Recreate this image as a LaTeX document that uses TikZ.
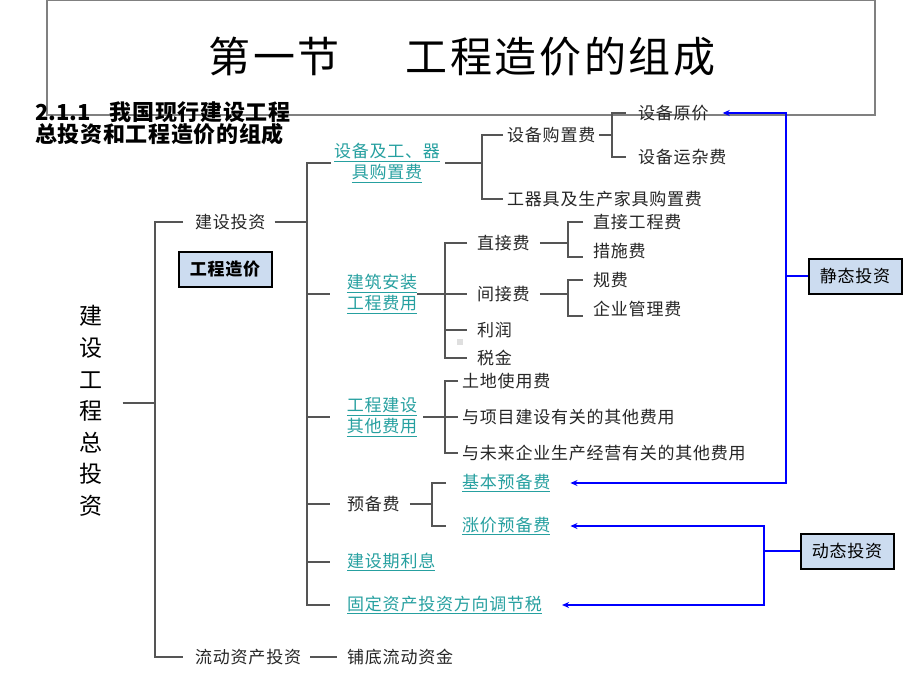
\documentclass[tikz,border=0pt]{standalone}
\usepackage{fontspec}
\setmainfont{Noto Sans CJK SC}
\newfontfamily\treefont[LetterSpace=4.5]{Noto Sans CJK SC}
\newfontfamily\headfont[LetterSpace=3]{Noto Sans CJK SC}
\newfontfamily\titlefont[LetterSpace=6]{Noto Sans CJK SC}
\usetikzlibrary{arrows.meta}

\definecolor{linkteal}{RGB}{38,160,160}
\definecolor{treegray}{RGB}{85,85,85}
\definecolor{boxblue}{RGB}{204,220,240}

\tikzset{
  treeline/.style={draw=treegray,line width=1.1pt},
  itemtext/.style={anchor=west,inner xsep=0pt,inner ysep=1pt,text=black!85,
    font=\treefont\fontsize{17}{21}\selectfont},
  linktext/.style={itemtext,text=linkteal},
  linkpair/.style={linktext,anchor=center,align=center},
  sumbox/.style={draw=black,line width=2pt,fill=boxblue,minimum width=93pt,minimum height=35pt,
    inner sep=0pt,font=\treefont\fontsize{17}{21}\selectfont},
  bluearr/.style={draw=blue,line width=1.3pt,-{Stealth[length=7pt,width=6pt]},shorten >=#1},
  bluearr/.default=20pt
}

\begin{document}
\begin{tikzpicture}[x=1pt,y=-1pt]
\fill[white] (0,0) rectangle (920,690);
\useasboundingbox (0,0) rectangle (920,690);

% title frame
\draw[gray,line width=1.2pt] (47,0.7) rectangle (875,115);
\node[font=\titlefont\fontsize{42}{42}\selectfont] (title) at (462,57) {第一节\hspace{66pt}工程造价的组成};
\node[anchor=west,align=left,inner sep=0pt,font=\headfont\bfseries\fontsize{22}{21}\selectfont] (head) at (35,123.5)
  {{\rmfamily\bfseries 2.1.1}\hspace{19pt}我国现行建设工程\\总投资和工程造价的组成};

% spines
\coordinate (s0) at (155,0);
\coordinate (s1) at (307,0);
\coordinate (s2a) at (482,0);
\coordinate (s3a) at (612,0);
\coordinate (s2b) at (445,0);
\coordinate (s3b) at (568,0);
\coordinate (s2c) at (445,0);
\coordinate (s2d) at (432,0);
\coordinate (bj) at (786,0);
\coordinate (bd) at (764,0);

% left part
\node[inner sep=0pt,align=center,font=\fontsize{23}{31.6}\selectfont] (root) at (91,411) {建\\设\\工\\程\\总\\投\\资};
\node[itemtext] (jstz) at (195,222) {建设投资};
\node[itemtext] (ldzc) at (195,657) {流动资产投资};
\node[itemtext] (pddz) at (347,657) {铺底流动资金};
\node[sumbox,font=\treefont\bfseries\fontsize{17}{21}\selectfont] (gczj) at (225,269) {工程造价};

% second level
\node[linkpair] (sbqj) at (387,163) {\underline{设备及工、器}\\\underline{具购置费}};
\node[linkpair] (jzaz) at (382,294) {\underline{建筑安装}\\\underline{工程费用}};
\node[linkpair] (gcqt) at (382,417) {\underline{工程建设}\\\underline{其他费用}};
\node[itemtext] (ybf) at (347,504) {预备费};
\node[linktext] (jsql) at (347,562) {\underline{建设期利息}};
\node[linktext] (gdzc) at (347,605) {\underline{固定资产投资方向调节税}};

% third level
\node[itemtext] (sbgz) at (507,135) {设备购置费};
\node[itemtext] (gqj) at (507,199) {工器具及生产家具购置费};
\node[itemtext] (sbyj) at (638,113) {设备原价};
\node[itemtext] (sbyz) at (638,157) {设备运杂费};
\node[itemtext] (zjf) at (477,243) {直接费};
\node[itemtext] (jjf) at (477,294) {间接费};
\node[itemtext] (lr) at (477,330) {利润};
\node[itemtext] (sj) at (477,358) {税金};
\node[itemtext] (zjgc) at (593,222) {直接工程费};
\node[itemtext] (csf) at (593,251) {措施费};
\node[itemtext] (gf) at (593,280) {规费};
\node[itemtext] (qygl) at (593,309) {企业管理费};
\node[itemtext] (tdsy) at (462,381) {土地使用费};
\node[itemtext] (xmjs) at (462,417) {与项目建设有关的其他费用};
\node[itemtext] (wlqy) at (462,453) {与未来企业生产经营有关的其他费用};
\node[linktext] (jbyb) at (462,483) {\underline{基本预备费}};
\node[linktext] (zjyb) at (462,526) {\underline{涨价预备费}};
\fill[gray!25] (457,339) rectangle (463,345);

% right boxes
\node[sumbox] (jt) at (855,276) {静态投资};
\node[sumbox] (dt) at (847,551) {动态投资};

% tree connectors
\draw[treeline] ([xshift=20pt,yshift=8pt]root.east) -- ++(32,0);
\draw[treeline] ([xshift=-12pt]jstz.west) -| (s0 |- ldzc) -- ([xshift=-12pt]ldzc.west);
\draw[treeline] ([xshift=9pt]ldzc.east) -- ([xshift=-10pt]pddz.west);
\draw[treeline] ([xshift=9pt]jstz.east) -- (s1 |- jstz);
\draw[treeline] ([xshift=-3pt]sbqj.west) -| (s1 |- gdzc) -- ([xshift=-17pt]gdzc.west);
\draw[treeline] (s1 |- jzaz) -- ([xshift=-17pt]jzaz.west);
\draw[treeline] (s1 |- gcqt) -- ([xshift=-17pt]gcqt.west);
\draw[treeline] (s1 |- ybf) -- ([xshift=-17pt]ybf.west);
\draw[treeline] (s1 |- jsql) -- ([xshift=-17pt]jsql.west);

\draw[treeline] ([xshift=5pt]sbqj.east) -- (s2a |- sbqj);
\draw[treeline] ([xshift=-4pt]sbgz.west) -| (s2a |- gqj) -- ([xshift=-4pt]gqj.west);
\draw[treeline] ([xshift=4pt]sbgz.east) -- (s3a |- sbgz);
\draw[treeline] ([xshift=-12pt]sbyj.west) -| (s3a |- sbyz) -- ([xshift=-12pt]sbyz.west);

\draw[treeline] (jzaz.east) -- (s2b |- jzaz);
\draw[treeline] ([xshift=-10pt]zjf.west) -| (s2b |- sj) -- ([xshift=-10pt]sj.west);
\draw[treeline] (s2b |- jjf) -- ([xshift=-10pt]jjf.west);
\draw[treeline] (s2b |- lr) -- ([xshift=-10pt]lr.west);
\draw[treeline] ([xshift=10pt]zjf.east) -- (s3b |- zjf);
\draw[treeline] ([xshift=-10pt]zjgc.west) -| (s3b |- csf) -- ++(0,6) -- ++(15,0);
\draw[treeline] ([xshift=10pt]jjf.east) -- (s3b |- jjf);
\draw[treeline] ([xshift=-10pt]gf.west) -| (s3b |- qygl) -- ++(0,7) -- ++(15,0);

\draw[treeline] ([xshift=6pt]gcqt.east) -- (s2c |- gcqt);
\draw[treeline] ([xshift=-4pt]tdsy.west) -| (s2c |- wlqy) -- ([xshift=-4pt]wlqy.west);
\draw[treeline] (s2c |- xmjs) -- ([xshift=-4pt]xmjs.west);

\draw[treeline] ([xshift=10pt]ybf.east) -- (s2d |- ybf);
\draw[treeline] ([xshift=-16pt]jbyb.west) -| (s2d |- zjyb) -- ([xshift=-16pt]zjyb.west);

% static / dynamic investment
\draw[bluearr=14pt] (jt.west) -- (jt.west -| bj) |- (sbyj.east);
\draw[bluearr] (jt.west) -- (jt.west -| bj) |- (jbyb.east);
\draw[bluearr] (dt.west) -- (dt.west -| bd) |- (zjyb.east);
\draw[bluearr] (dt.west) -- (dt.west -| bd) |- (gdzc.east);

\end{tikzpicture}
\end{document}
